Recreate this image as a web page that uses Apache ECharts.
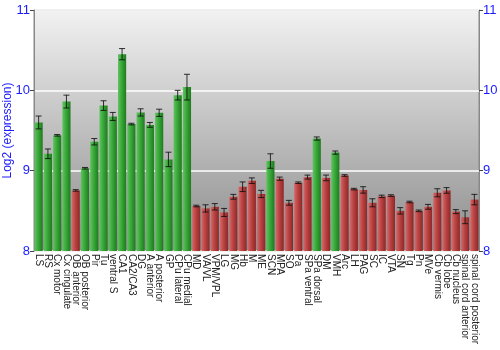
<!DOCTYPE html>
<html><head><meta charset="utf-8">
<script src="https://cdn.jsdelivr.net/npm/echarts@6/dist/echarts.min.js"></script>
<style>html,body{margin:0;padding:0;background:#fff}#c{width:500px;height:350px}</style>
</head><body><div id="c"></div>
<script>
var categories = ["LS","RS","Cx motor","Cx cingulate","OB anterior","OB posterior","Pir","Tu","ventral S","CA1","CA2/CA3","DG","A anterior","A posterior","GP","CPu lateral","CPu medial","MD","VA/VL","VPM/VPL","LG","MG","Hb","M","ME","SCN","MPA","SO","Pa","SPa ventral","SPa dorsal","DM","VMH","Arc","LH","PAG","SC","IC","VTA","SN","Tg","Pn","MVe","Cb vermis","Cb lobe","Cb nucleus","spinal cord anterior","spinal cord posterior"];
var values = [9.60,9.21,9.44,9.86,8.754,9.03,9.36,9.81,9.675,10.45,9.58,9.725,9.57,9.72,9.14,9.94,10.04,8.56,8.53,8.55,8.48,8.675,8.80,8.875,8.71,9.12,8.90,8.60,8.85,8.92,9.40,8.91,9.225,8.94,8.77,8.76,8.60,8.68,8.69,8.50,8.61,8.50,8.55,8.725,8.754,8.49,8.42,8.64];
var errors = [0.08,0.06,0.01,0.08,0.01,0.01,0.04,0.06,0.05,0.07,0.01,0.045,0.03,0.045,0.09,0.06,0.16,0.01,0.045,0.04,0.05,0.03,0.06,0.035,0.045,0.09,0.02,0.03,0.01,0.025,0.02,0.035,0.02,0.01,0.01,0.04,0.05,0.015,0.01,0.04,0.01,0.01,0.03,0.05,0.035,0.025,0.08,0.065];
var groups = ["g","g","g","g","r","g","g","g","g","g","g","g","g","g","g","g","g","r","r","r","r","r","r","r","r","g","r","r","r","r","g","r","g","r","r","r","r","r","r","r","r","r","r","r","r","r","r","r"];
var yTicks = [8,9,10,11];

var greenFill = {type:'linear',x:0,y:0,x2:1,y2:0,colorStops:[{offset:0,color:'#5fc45f'},{offset:0.45,color:'#38a838'},{offset:1,color:'#1f7a1f'}]};
var redFill = {type:'linear',x:0,y:0,x2:1,y2:0,colorStops:[{offset:0,color:'#d46a6a'},{offset:0.45,color:'#bb4242'},{offset:1,color:'#8c2828'}]};

var barData = values.map(function(v,i){
  return {value:v, itemStyle:{color: groups[i]==='g'?greenFill:redFill}};
});
var errData = values.map(function(v,i){ return [i, v-errors[i], v+errors[i]]; });

var chart = echarts.init(document.getElementById('c'), null, {renderer:'canvas'});
var yAxisCommon = {
  type:'value', min:8, max:11, interval:1,
  axisLine:{show:true, lineStyle:{color:'#888'}},
  axisTick:{show:true, length:4, lineStyle:{color:'#444'}},
  axisLabel:{color:'#1a1aff', fontSize:13, fontFamily:'Liberation Sans, Arial', margin:4,
    formatter:function(v){ return yTicks.indexOf(v)>=0 ? String(v) : ''; }},
};
chart.setOption({
  animation:false,
  grid:{left:34, right:21, top:10, bottom:99, containLabel:false, outerBoundsMode:'none',
    show:true, borderColor:'#888', borderWidth:1,
    backgroundColor:{type:'linear',x:0,y:0,x2:0,y2:1,colorStops:[{offset:0,color:'#f2f2f2'},{offset:1,color:'#8c8c8c'}]}},
  xAxis:{type:'category', data:categories,
    axisLine:{show:false}, axisTick:{show:false},
    axisLabel:{interval:0, rotate:-90, fontSize:10, color:'#222', fontFamily:'Liberation Sans, Arial', margin:3}},
  yAxis:[
    Object.assign({}, yAxisCommon, {position:'left', name:'Log2 (expression)', nameLocation:'middle', nameGap:20,
      nameMoveOverlap:false,
      nameTextStyle:{color:'#1a1aff', fontSize:12, fontFamily:'Liberation Sans, Arial'},
      splitLine:{show:true, lineStyle:{color:'#ffffff', width:1.5}}}),
    Object.assign({}, yAxisCommon, {position:'right', splitLine:{show:false}})
  ],
  series:[
    {type:'bar', data:barData, barCategoryGap:'12%', yAxisIndex:0},
    {type:'custom', yAxisIndex:0, data:errData, z:5,
      renderItem:function(params, api){
        var x = api.coord([api.value(0), api.value(1)])[0];
        var lo = api.coord([api.value(0), api.value(1)])[1];
        var hi = api.coord([api.value(0), api.value(2)])[1];
        var w = 3;
        var st = {stroke:'#111', lineWidth:1, opacity:0.85};
        return {type:'group', children:[
          {type:'line', shape:{x1:x, y1:lo, x2:x, y2:hi}, style:st},
          {type:'line', shape:{x1:x-w, y1:lo, x2:x+w, y2:lo}, style:st},
          {type:'line', shape:{x1:x-w, y1:hi, x2:x+w, y2:hi}, style:st}
        ]};
      }}
  ]
});
</script></body></html>
